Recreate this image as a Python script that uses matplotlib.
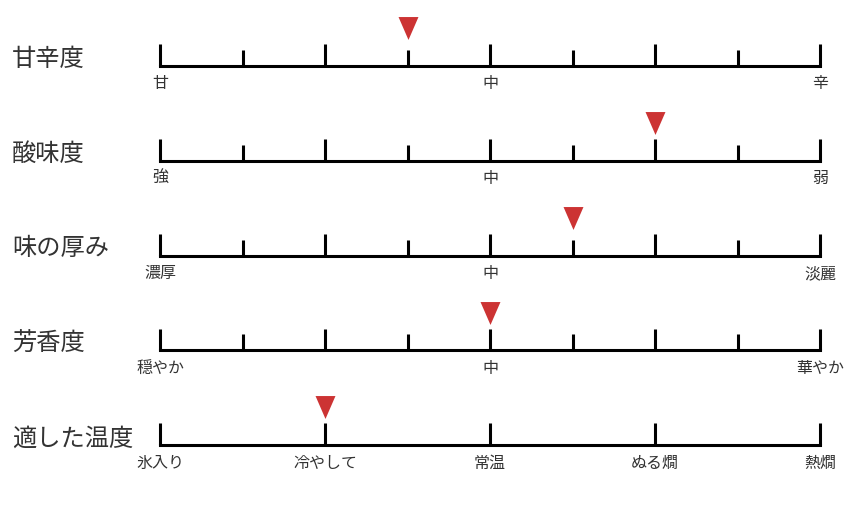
import numpy as np
import matplotlib
matplotlib.use('Agg')
import matplotlib.pyplot as plt

plt.rcParams['font.family'] = ['Noto Sans CJK JP', 'DejaVu Sans']

# chart data
titles = ['甘辛度', '酸味度', '味の厚み', '芳香度', '適した温度']
values = [3, 6, 5, 4, 2]          # marker position on 0..8 scale
n_ticks = [9, 9, 9, 9, 5]         # ticks per scale
labels = [
    {0: '甘', 4: '中', 8: '辛'},
    {0: '強', 4: '中', 8: '弱'},
    {0: '濃厚', 4: '中', 8: '淡麗'},
    {0: '穏やか', 4: '中', 8: '華やか'},
    {0: '氷入り', 2: '冷やして', 4: '常温', 6: 'ぬる燗', 8: '熱燗'},
]

W, H = 850, 506
fig = plt.figure(figsize=(W / 100, H / 100), dpi=100)
ax = fig.add_axes([0, 0, 1, 1])
ax.axis('off')

# x: scale units (0..8 -> 160..820 px), y: row index (row 0 at 66.5 px, 95 px apart)
px_x = 82.5
px_y = 95.0
y0 = 66.5
ax.set_xlim(-160 / px_x, (W - 160) / px_x)
ax.set_ylim((H - y0) / px_y, -y0 / px_y)

lw = 2.2
major_h = 22 / px_y
minor_h = 16 / px_y
txt_col = '#333333'
red = '#cc3333'
tri = [(-10, 11.5), (10, 11.5), (0, -11.5)]

for i, title in enumerate(titles):
    ax.plot([0, 8], [i, i], color='black', lw=lw, solid_capstyle='projecting')
    step = 8 / (n_ticks[i] - 1)
    for k in range(n_ticks[i]):
        x = k * step
        h = major_h if (x % 2 == 0) else minor_h
        ax.plot([x, x], [i, i - h], color='black', lw=lw, solid_capstyle='butt')
    for x, lab in labels[i].items():
        ax.text(x, i + 17 / px_y, lab, ha='center', va='center',
                fontsize=11.5, color=txt_col)
    ax.text(-148 / px_x, i - 8 / px_y, title, ha='left', va='center',
            fontsize=17.5, color=txt_col)
    ax.plot(values[i], i - 38 / px_y, marker=tri, markersize=16.5,
            color=red, markeredgewidth=0, linestyle='none')

fig.savefig('out.png', dpi=100)
